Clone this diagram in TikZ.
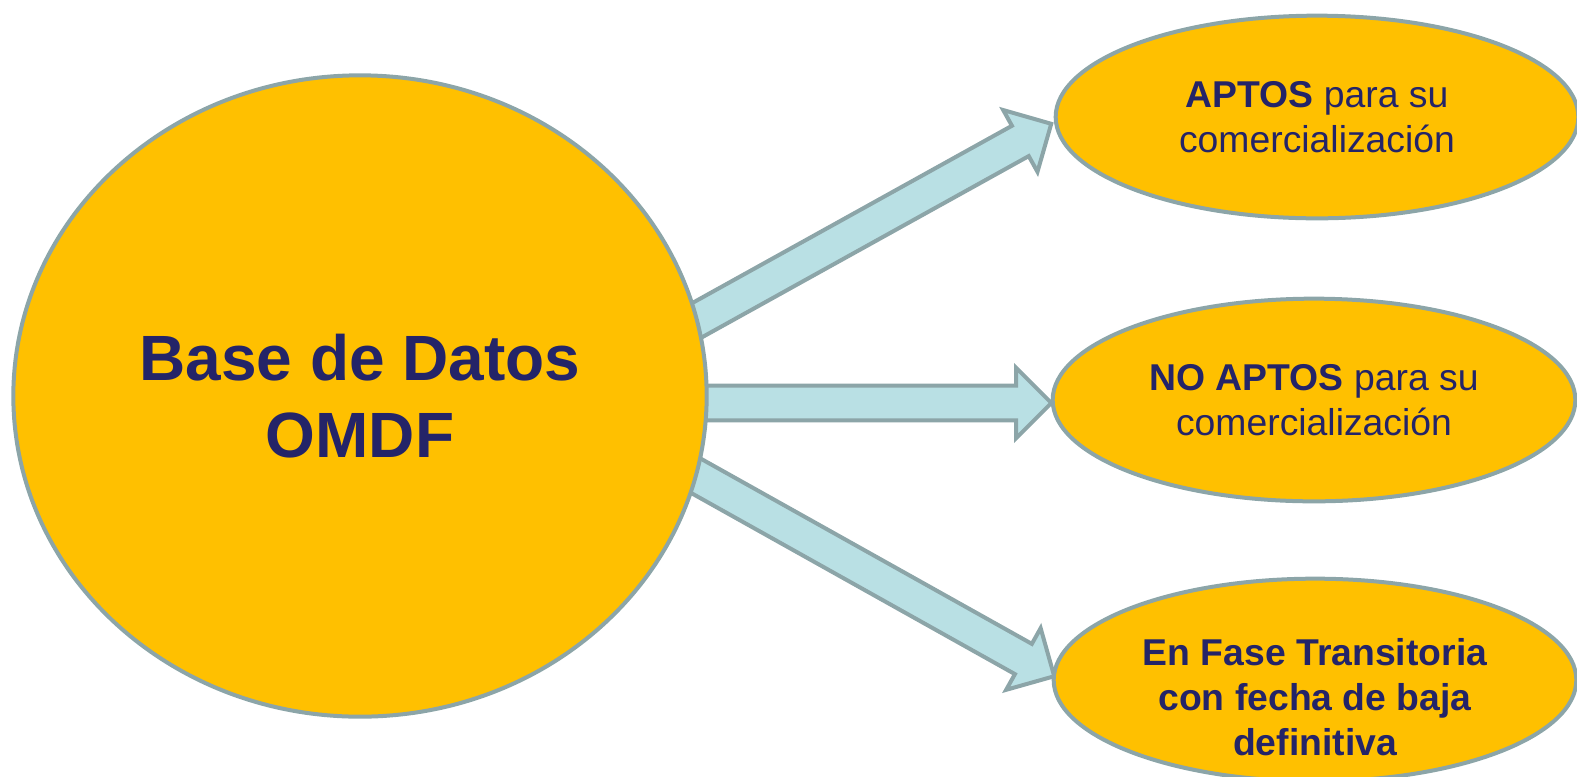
\documentclass[tikz,border=0pt]{standalone}
\usepackage{fontspec}
\setmainfont{Liberation Sans}
\usetikzlibrary{shapes.geometric,shapes.arrows,calc,backgrounds}
\definecolor{amarillo}{HTML}{FFC000}
\definecolor{borde}{HTML}{8CA5A8}
\definecolor{celeste}{HTML}{B9E0E4}
\definecolor{azul}{RGB}{36,36,104}

\begin{document}
\begin{tikzpicture}[x=0.75pt,y=-0.75pt,
    base/.style={ellipse, draw=borde, fill=amarillo, line width=3pt, text=azul, align=center, inner sep=0pt},
    grande/.style={base, minimum width=520pt, minimum height=481pt, font=\fontsize{48}{58}\selectfont\bfseries},
    opcion/.style={base, minimum width=392pt, minimum height=152pt, font=\fontsize{28}{34}\selectfont},
    texto/.style={text=azul, align=center, inner sep=0pt, font=\fontsize{28}{34}\selectfont\bfseries},
    flecha/.style={single arrow, draw=borde, fill=celeste, line width=3pt, inner xsep=0pt, inner ysep=11.5pt, single arrow head extend=13.5pt}]
  \useasboundingbox (0,0) rectangle (1577,776);

  \node [grande] (datos) at (360,396) {Base de Datos\\OMDF};
  \node [opcion] (aptos) at (1317,117) {\textbf{APTOS} para su\\comercialización};
  \node [opcion] (noaptos) at (1314,400) {\textbf{NO APTOS} para su\\comercialización};
  \node [opcion] (fase) at (1315,680) {};
  \node [texto] (fasetxt) at ($(fase.center)+(0,17)$) {En Fase Transitoria\\con fecha de baja\\definitiva};

  % puntos de salida y llegada de las flechas
  \coordinate (s1) at ($(datos.center)+(323,-68)$);
  \coordinate (s2) at ($(datos.center)+(330,7)$);
  \coordinate (s3) at ($(datos.center)+(322,72)$);
  \coordinate (l1) at ($(aptos.west)+(-10,11)$);
  \coordinate (l2) at ($(noaptos.west)+(-8,3)$);
  \coordinate (l3) at ($(fase.west)+(-5,-8)$);

  \begin{pgfonlayer}{background}
    \foreach \ini/\fin in {s1/l1, s2/l2, s3/l3}
      \path let \p1=(\ini), \p2=(\fin),
        \n1={atan2(\y2-\y1,\x2-\x1)}, \n2={veclen(\x2-\x1,\y2-\y1)} in
        node [flecha, minimum height=\n2, rotate=\n1] at ($(\ini)!0.5!(\fin)$) {};
  \end{pgfonlayer}
\end{tikzpicture}
\end{document}
